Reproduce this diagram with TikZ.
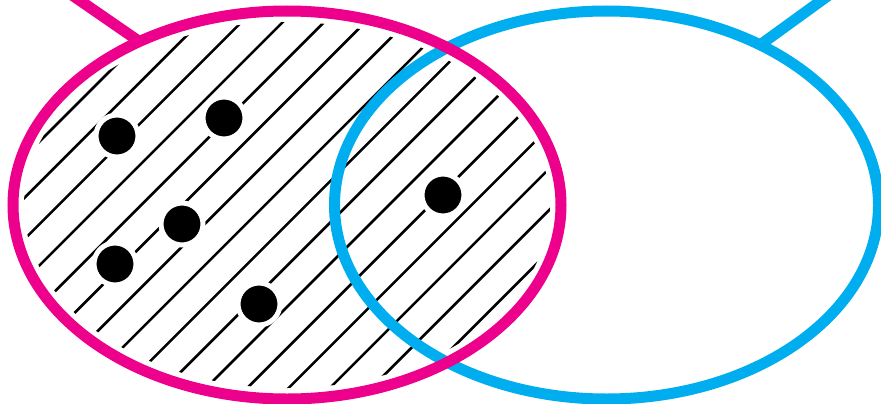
\documentclass[tikz,border=0pt]{standalone}
\definecolor{vmag}{RGB}{236,0,140}
\definecolor{vcyan}{RGB}{0,174,239}
\begin{document}
\begin{tikzpicture}[x=1pt,y=-1pt,
  setline/.style={line width=11pt},
  hatchline/.style={line width=2.6pt,black},
  dotpt/.style={circle,fill=black,draw=white,line width=5pt,minimum size=42pt,inner sep=0pt}]
\clip (0,0) rectangle (881,404);
\useasboundingbox (0,0) rectangle (881,404);
% hatching inside magenta set
\begin{scope}
  \clip (287,205) ellipse [x radius=263pt, y radius=183pt];
  \foreach \k in {0,...,15}{
    \pgfmathsetmacro{\c}{181+41.3*\k}
    \draw[hatchline] (\c-420,420) -- (\c+20,-20);
  }
\end{scope}
% dots with white halo
\node[dotpt] (d1) at (117,136) {};
\node[dotpt] (d2) at (224,118) {};
\node[dotpt] (d3) at (182,224) {};
\node[dotpt] (d4) at (115,264) {};
\node[dotpt] (d5) at (259,304) {};
\node[dotpt] (d6) at (443,195) {};
% connector coordinates
\coordinate (mstart) at (140,42);
\coordinate (mend) at (56,-16);
\coordinate (cstart) at (760,45);
\coordinate (cend) at (840,-13);
% cyan set
\draw[setline,vcyan] (606.5,205) ellipse [x radius=272pt, y radius=194pt];
\draw[setline,vcyan] (cstart) -- (cend);
% magenta set
\draw[setline,vmag] (287,205) ellipse [x radius=274pt, y radius=194pt];
\draw[setline,vmag] (mstart) -- (mend);
\end{tikzpicture}
\end{document}
